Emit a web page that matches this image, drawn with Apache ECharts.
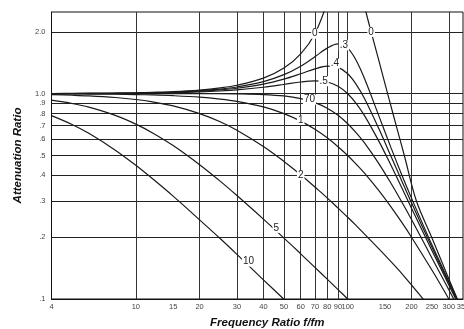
<!DOCTYPE html>
<html><head><meta charset="utf-8">
<script src="https://cdn.jsdelivr.net/npm/echarts@6/dist/echarts.min.js"></script>
<style>html,body{margin:0;padding:0;background:#fff}#c{width:464px;height:329px}</style>
</head><body><div id="c"></div>
<script>
// Frequency ratio sample points (f/fm)
const freq = [4,5,6,8,10,12,15,20,25,30,40,50,60,70,80,90,100,110,120,140,160,180,200,250,300,350];
// Attenuation ratio read for each curve (null = off chart)
const zeta10 = [0.782,0.708,0.641,0.531,0.448,0.385,0.317,0.243,0.197,0.165,0.124,0.0997,0.0832,null,null,null,null,null,null,null,null,null,null,null,null,null];
const zeta5  = [0.930,0.896,0.860,0.784,0.711,0.644,0.559,0.451,0.375,0.319,0.245,0.198,0.166,0.1425,0.1249,0.1111,0.100,0.0909,null,null,null,null,null,null,null,null];
const zeta2  = [0.989,0.983,0.976,0.958,0.937,0.912,0.872,0.800,0.730,0.664,0.553,0.468,0.403,0.351,0.311,0.277,0.250,0.227,0.207,0.176,0.152,0.133,0.117,0.0885,null,null];
const zeta1  = [0.998,0.998,0.996,0.994,0.990,0.986,0.978,0.962,0.941,0.917,0.862,0.800,0.735,0.671,0.610,0.552,0.500,0.452,0.410,0.338,0.281,0.236,0.200,0.138,0.100,0.075];
const zeta07 = [1.000,1.000,1.000,1.000,1.000,1.000,1.000,1.000,1.000,0.998,0.990,0.975,0.947,0.905,0.850,0.785,0.714,0.643,0.576,0.458,0.366,0.297,0.244,0.158,0.111,0.082];
const zeta05 = [1.001,1.001,1.002,1.003,1.005,1.007,1.011,1.020,1.031,1.044,1.075,1.109,1.140,1.155,1.140,1.087,1.000,0.893,0.782,0.589,0.448,0.348,0.277,0.172,0.117,0.085];
const zeta04 = [1.001,1.002,1.003,1.004,1.007,1.010,1.015,1.028,1.043,1.063,1.113,1.177,1.250,1.320,1.362,1.343,1.250,1.105,0.947,0.678,0.496,0.376,0.294,0.178,0.120,0.086];
const zeta03 = [1.001,1.002,1.003,1.005,1.008,1.012,1.019,1.034,1.053,1.078,1.145,1.238,1.362,1.514,1.667,1.747,1.667,1.444,1.185,0.784,0.546,0.402,0.310,0.183,0.122,0.087];
const zeta0Low = [1.002,1.003,1.004,1.006,1.010,1.015,1.023,1.042,1.067,1.099,1.191,1.333,1.563,1.961,2.778,null,null,null,null,null,null,null,null,null,null,null];
// undamped curve above resonance
const zeta0HighFreq = [118,122,129,140,157,170,185,211,249,329,350];
const zeta0High     = [3.0,2.5,2.0,1.46,0.935,0.69,0.5,0.3,0.2,0.1,0.088];
// Curve labels and where they sit on their curves [f/fm, ratio]
const curveLabels = ['10','5','2','1','70','.5','.4','.3','0','0'];
const labelAt = [[34,0.152],[46,0.222],[60,0.40],[60,0.745],[66,0.935],[77,1.15],[87,1.40],[96,1.72],[70,1.96],[129,2.0]];
// Axis ticks
const xTickLabels = [4,10,15,20,30,40,50,60,70,80,90,100,150,200,250,300,350];
const xGridValues = [10,20,30,40,50,60,70,80,90,100,200,300];
const yTickLabels = [0.1,0.2,0.3,0.4,0.5,0.6,0.7,0.8,0.9,1,2];
const yGridValues = [0.2,0.3,0.4,0.5,0.6,0.7,0.8,0.9,1,2];

const FONT = 'Liberation Sans, Arial, sans-serif';
function pairs(xs, ys){ const out=[]; for(let i=0;i<xs.length;i++){ if(ys[i]!=null) out.push([xs[i], ys[i]]); } return out; }
const curves = [
  pairs(freq, zeta10), pairs(freq, zeta5), pairs(freq, zeta2), pairs(freq, zeta1),
  pairs(freq, zeta07), pairs(freq, zeta05), pairs(freq, zeta04), pairs(freq, zeta03),
  pairs(freq, zeta0Low), pairs(zeta0HighFreq, zeta0High)
];
const series = curves.map((d, i) => ({
  type: 'line', data: d, smooth: 0.35, symbol: 'none', clip: true,
  lineStyle: { color: '#1a1a1a', width: 1.2 },
  z: 3,
  markPoint: {
    symbol: 'circle', symbolSize: 1, itemStyle: { color: 'rgba(0,0,0,0)' },
    data: [{ name: curveLabels[i], coord: labelAt[i] }],
    label: { show: true, position: 'inside', formatter: '{b}', fontFamily: FONT, fontSize: 10,
      color: '#222', backgroundColor: '#fff', padding: [0, 1, 0, 1], lineHeight: 10 },
    z: 6
  }
}));

const chart = echarts.init(document.getElementById('c'), null, { renderer: 'canvas' });
chart.setOption({
  animation: false,
  backgroundColor: '#fff',
  grid: { left: 51.5, right: 1, top: 12, bottom: 30, outerBoundsMode: 'none', containLabel: false,
    show: true, borderColor: '#111', borderWidth: 1 },
  xAxis: {
    type: 'log', logBase: 10, min: 4, max: 350,
    name: 'Frequency Ratio f/fm', nameLocation: 'middle', nameGap: 18,
    nameTextStyle: { fontFamily: FONT, fontSize: 11.5, fontWeight: 'bold', fontStyle: 'italic', color: '#111', padding: [0,0,0,20] },
    axisLine: { show: true, lineStyle: { color: '#111', width: 1 } },
    axisTick: { show: false, customValues: xGridValues },
    axisLabel: { customValues: xTickLabels, fontFamily: FONT, fontSize: 7.5, color: '#444', margin: 4,
      hideOverlap: false, formatter: v => String(Math.round(v)) },
    splitLine: { show: true, lineStyle: { color: '#333', width: 1 } },
    minorSplitLine: { show: false }
  },
  yAxis: {
    type: 'log', logBase: 10, min: 0.1, max: 2.5,
    name: 'Attenuation Ratio', nameLocation: 'middle', nameGap: 28,
    nameTextStyle: { fontFamily: FONT, fontSize: 11.5, fontWeight: 'bold', fontStyle: 'italic', color: '#111' },
    axisLine: { show: true, lineStyle: { color: '#111', width: 1 } },
    axisTick: { show: false, customValues: yGridValues },
    axisLabel: { customValues: yTickLabels, fontFamily: FONT, fontSize: 7.5, color: '#444', margin: 6,
      hideOverlap: false, formatter: v => v >= 0.95 ? v.toFixed(1) : '.' + Math.round(v * 10) },
    splitLine: { show: true, lineStyle: { color: '#222', width: 1 } }
  },
  series: series
});
</script></body></html>
